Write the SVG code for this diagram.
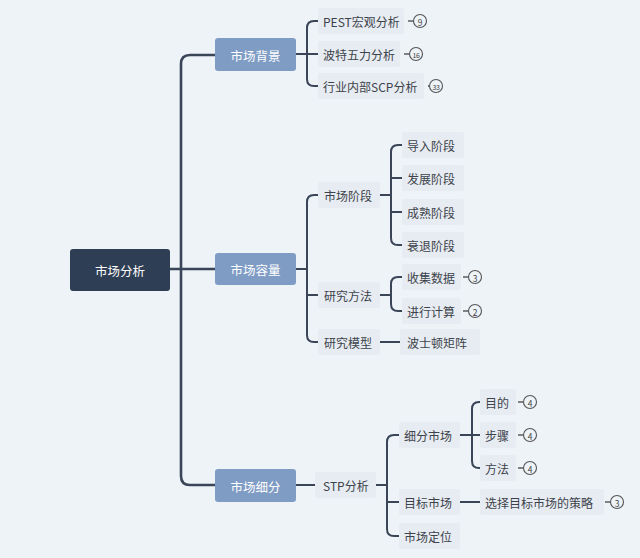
<svg xmlns="http://www.w3.org/2000/svg" width="640" height="558" viewBox="0 0 640 558">
<style>
text{font-family:"Noto Sans CJK SC","Liberation Sans",sans-serif;font-size:12px;fill:#3d434b;dominant-baseline:central}
.w{fill:#fff;font-size:12.5px;text-anchor:middle}
.tb{fill:#e7ecf2}
.ln{fill:none;stroke:#3a4558;stroke-width:2;stroke-linecap:round}
.main{fill:none;stroke:#3a4558;stroke-width:2.6;stroke-linecap:round}
.bd{fill:none;stroke:#555;stroke-width:1.1}
.bl{stroke:#444;stroke-width:1.3}
.bn{font-size:8.5px;text-anchor:middle;fill:#444}
.b2{font-size:7px;letter-spacing:-0.5px}
</style>
<rect width="640" height="558" fill="#eef3f8"/>
<g id="connectors">
<path class="main" d="M215,55 H190 Q181,55 181,64 V476 Q181,485 190,485 H215"/>
<path class="main" d="M170,269 H215"/>
<path class="ln" d="M296,54 H318 M318,21 H314 Q307,21 307,28 V79 Q307,86 314,86 H318"/>
<path class="ln" d="M296,269 H307 M318,195 H314 Q307,195 307,202 V335 Q307,342 314,342 H318 M307,295 H318"/>
<path class="ln" d="M379,195 H391 M402,145 H398 Q391,145 391,152 V238 Q391,245 398,245 H402 M391,178 H402 M391,212 H402"/>
<path class="ln" d="M379,295 H391 M402,277 H398 Q391,277 391,284 V304 Q391,311 398,311 H402 M380,342 H400"/>
<path class="ln" d="M296,485 H315"/>
<path class="ln" d="M376,485 H387 M402,435 H394 Q387,435 387,442 V529 Q387,536 394,536 H402 M387,502 H402"/>
<path class="ln" d="M460,435 H484 M484,402 H479 Q472,402 472,409 V461 Q472,468 479,468 H484"/>
<path class="ln" d="M460,502 H480"/>
</g>
<g id="root"><rect x="70" y="249" width="100" height="42" rx="3" fill="#2e3e54"/><text class="w" x="120" y="270">市场分析</text></g>
<g id="bg"><rect x="215" y="38" width="81" height="33" rx="3" fill="#7f9cc5"/><text class="w" x="255.5" y="55">市场背景</text></g>
<g id="rl"><rect x="215" y="253" width="81" height="32" rx="3" fill="#7f9cc5"/><text class="w" x="255.5" y="269">市场容量</text></g>
<g id="xf"><rect x="215" y="469" width="81" height="33" rx="3" fill="#7f9cc5"/><text class="w" x="255.5" y="486">市场细分</text></g>
<g id="pest"><rect class="tb" x="318" y="8" width="86" height="26" rx="2"/><text x="323" y="21">PEST宏观分析</text><path class="bl" d="M408,21 H413"/><circle class="bd" cx="420" cy="21" r="6.5"/><text class="bn" x="420" y="21.5">9</text></g>
<g id="porter"><rect class="tb" x="318" y="41" width="82" height="26" rx="2"/><text x="323" y="54">波特五力分析</text><path class="bl" d="M404,54 H409"/><circle class="bd" cx="416" cy="54" r="6.5"/><text class="bn b2" x="416" y="54.5">16</text></g>
<g id="scp"><rect class="tb" x="318" y="73" width="106" height="26" rx="2"/><text x="323" y="86">行业内部SCP分析</text><path class="bl" d="M428,86 H429"/><circle class="bd" cx="436" cy="86" r="6.5"/><text class="bn b2" x="436" y="86.5">33</text></g>
<g id="jd"><rect class="tb" x="318" y="182" width="62" height="26" rx="2"/><text x="324" y="195">市场阶段</text></g>
<g id="ff"><rect class="tb" x="318" y="282" width="62" height="26" rx="2"/><text x="324" y="295">研究方法</text></g>
<g id="mx"><rect class="tb" x="318" y="329" width="62" height="26" rx="2"/><text x="324" y="342">研究模型</text></g>
<g id="j1"><rect class="tb" x="402" y="132" width="62" height="26" rx="2"/><text x="407" y="145">导入阶段</text></g>
<g id="j2"><rect class="tb" x="402" y="165" width="62" height="26" rx="2"/><text x="407" y="178">发展阶段</text></g>
<g id="j3"><rect class="tb" x="402" y="199" width="62" height="26" rx="2"/><text x="407" y="212">成熟阶段</text></g>
<g id="j4"><rect class="tb" x="402" y="232" width="62" height="26" rx="2"/><text x="407" y="245">衰退阶段</text></g>
<g id="f1"><rect class="tb" x="402" y="264" width="59" height="26" rx="2"/><text x="407" y="277">收集数据</text><path class="bl" d="M463,277 H468"/><circle class="bd" cx="475" cy="277" r="6.5"/><text class="bn" x="475" y="277.5">3</text></g>
<g id="f2"><rect class="tb" x="402" y="298" width="59" height="26" rx="2"/><text x="407" y="311">进行计算</text><path class="bl" d="M463,311 H468"/><circle class="bd" cx="475" cy="311" r="6.5"/><text class="bn" x="475" y="311.5">2</text></g>
<g id="bcg"><rect class="tb" x="400" y="329" width="80" height="26" rx="2"/><text x="407" y="342">波士顿矩阵</text></g>
<g id="stp"><rect class="tb" x="315" y="472" width="61" height="26" rx="2"/><text x="323" y="485">STP分析</text></g>
<g id="s1"><rect class="tb" x="399" y="422" width="61" height="26" rx="2"/><text x="404" y="435">细分市场</text></g>
<g id="s2"><rect class="tb" x="399" y="489" width="61" height="26" rx="2"/><text x="404" y="502">目标市场</text></g>
<g id="s3"><rect class="tb" x="399" y="523" width="61" height="26" rx="2"/><text x="404" y="536">市场定位</text></g>
<g id="m1"><rect class="tb" x="480" y="389" width="36" height="26" rx="2"/><text x="485" y="402">目的</text><path class="bl" d="M518,402 H523"/><circle class="bd" cx="530" cy="402" r="6.5"/><text class="bn" x="530" y="402.5">4</text></g>
<g id="m2"><rect class="tb" x="480" y="422" width="36" height="26" rx="2"/><text x="485" y="435">步骤</text><path class="bl" d="M518,435 H523"/><circle class="bd" cx="530" cy="435" r="6.5"/><text class="bn" x="530" y="435.5">4</text></g>
<g id="m3"><rect class="tb" x="480" y="455" width="36" height="26" rx="2"/><text x="485" y="468">方法</text><path class="bl" d="M518,468 H523"/><circle class="bd" cx="530" cy="468" r="6.5"/><text class="bn" x="530" y="468.5">4</text></g>
<g id="cl"><rect class="tb" x="480" y="489" width="124" height="26" rx="2"/><text x="485" y="502">选择目标市场的策略</text><path class="bl" d="M605,502 H610"/><circle class="bd" cx="617" cy="502" r="6.5"/><text class="bn" x="617" y="502.5">3</text></g>
</svg>
